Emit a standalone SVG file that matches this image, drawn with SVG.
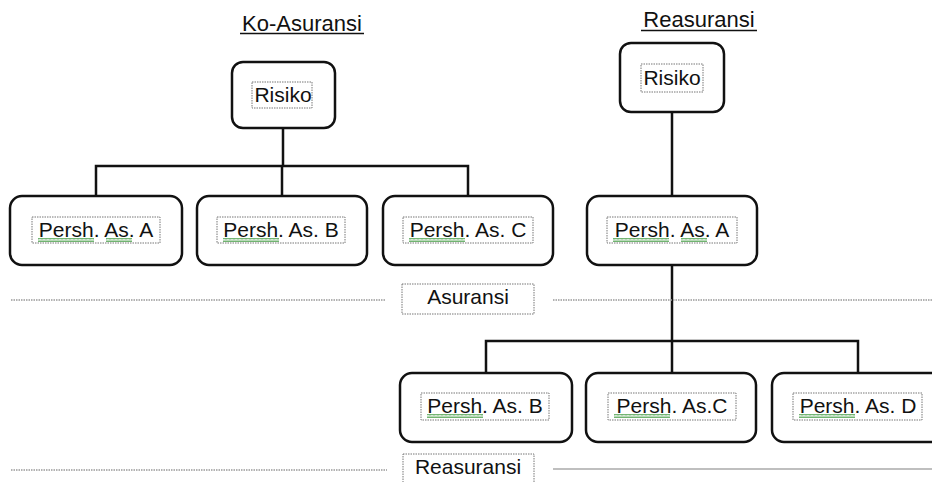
<svg xmlns="http://www.w3.org/2000/svg" width="932" height="482" viewBox="0 0 932 482">
<defs>
<style>
.box{fill:#fff;stroke:#111;stroke-width:2.5}
.tb{fill:none;stroke:#777;stroke-width:1;stroke-dasharray:1.5 1}
.t{font-family:"Liberation Sans",Arial,sans-serif;font-size:21px;fill:#111;text-anchor:middle}
.title{font-family:"Liberation Sans",Arial,sans-serif;font-size:22px;fill:#111;text-anchor:middle}
.ul{stroke:#111;stroke-width:1.5}
.con{fill:none;stroke:#111;stroke-width:2.5}
.sep{stroke:#999;stroke-width:1.5;stroke-dasharray:1.5 1}
.wavy{fill:none;stroke:#5aa85a;stroke-width:1}
</style>
<pattern id="wv" width="4" height="4" patternUnits="userSpaceOnUse">
<path d="M0,3.5 L1,0.5 L2,3.5 L3,0.5 L4,3.5" class="wavy"/>
</pattern>
</defs>
<rect width="932" height="482" fill="#fff"/>

<g id="titles">
<text class="title" x="302" y="31">Ko-Asuransi</text>
<line class="ul" x1="240" y1="33.5" x2="364" y2="33.5"/>
<text class="title" x="699" y="27">Reasuransi</text>
<line class="ul" x1="641" y1="30.5" x2="757" y2="30.5"/>
</g>

<g id="connectors">
<path class="con" d="M283,128 V166 M96,196 V166 H468 V196 M282,166 V196"/>
<path class="con" d="M672,112 V196 M672,265 V341 M486,373 V341 H858 V373 M672,341 V373"/>
</g>

<g id="separators">
<line class="sep" x1="11" y1="300" x2="385" y2="300"/>
<line class="sep" x1="553" y1="300" x2="932" y2="300"/>
<line class="sep" x1="11" y1="470" x2="387" y2="470"/>
<line x1="553" y1="469" x2="932" y2="469" stroke="#aaa" stroke-width="1.5"/>
</g>

<g id="risiko-ko">
<rect class="box" x="232" y="62" width="103" height="66" rx="11"/>
<rect class="tb" x="252" y="82" width="60" height="26"/>
<text class="t" x="283" y="102">Risiko</text>
</g>

<g id="risiko-re">
<rect class="box" x="620" y="43" width="104" height="69" rx="11"/>
<rect class="tb" x="641" y="64" width="62" height="28"/>
<text class="t" x="672" y="85">Risiko</text>
</g>

<g id="ko-a">
<rect class="box" x="10" y="196" width="172" height="69" rx="12"/>
<rect class="tb" x="32" y="217" width="128" height="26"/>
<text class="t" x="96" y="237">Persh. As. A</text>
<rect x="38" y="238" width="56" height="4" fill="url(#wv)"/>
<rect x="106" y="238" width="26" height="4" fill="url(#wv)"/>
</g>

<g id="ko-b">
<rect class="box" x="197" y="196" width="170" height="69" rx="12"/>
<rect class="tb" x="217" y="217" width="128" height="26"/>
<text class="t" x="281" y="237">Persh. As. B</text>
<rect x="223" y="238" width="56" height="4" fill="url(#wv)"/>
</g>

<g id="ko-c">
<rect class="box" x="383" y="196" width="170" height="69" rx="12"/>
<rect class="tb" x="403" y="217" width="130" height="26"/>
<text class="t" x="468" y="237">Persh. As. C</text>
<rect x="409" y="238" width="56" height="4" fill="url(#wv)"/>
</g>

<g id="re-a">
<rect class="box" x="587" y="196" width="170" height="69" rx="12"/>
<rect class="tb" x="607" y="217" width="130" height="26"/>
<text class="t" x="672" y="237">Persh. As. A</text>
<rect x="613" y="238" width="56" height="4" fill="url(#wv)"/>
<rect x="681" y="238" width="26" height="4" fill="url(#wv)"/>
</g>

<g id="label-asuransi">
<rect class="tb" x="402" y="284" width="132" height="30"/>
<text class="t" x="468" y="304">Asuransi</text>
</g>

<g id="re-b">
<rect class="box" x="400" y="373" width="172" height="69" rx="12"/>
<rect class="tb" x="421" y="393" width="128" height="27"/>
<text class="t" x="485" y="413">Persh. As. B</text>
<rect x="427" y="414" width="56" height="4" fill="url(#wv)"/>
</g>

<g id="re-c">
<rect class="box" x="586" y="373" width="170" height="69" rx="12"/>
<rect class="tb" x="608" y="393" width="128" height="27"/>
<text class="t" x="672" y="413">Persh. As.C</text>
<rect x="614" y="414" width="56" height="4" fill="url(#wv)"/>
</g>

<g id="re-d">
<rect class="box" x="772" y="373" width="172" height="69" rx="12"/>
<rect class="tb" x="793" y="393" width="129" height="27"/>
<text class="t" x="858" y="413">Persh. As. D</text>
<rect x="799" y="414" width="56" height="4" fill="url(#wv)"/>
</g>

<g id="label-reasuransi">
<rect class="tb" x="403" y="454" width="131" height="32"/>
<text class="t" x="468" y="474">Reasuransi</text>
</g>
</svg>
